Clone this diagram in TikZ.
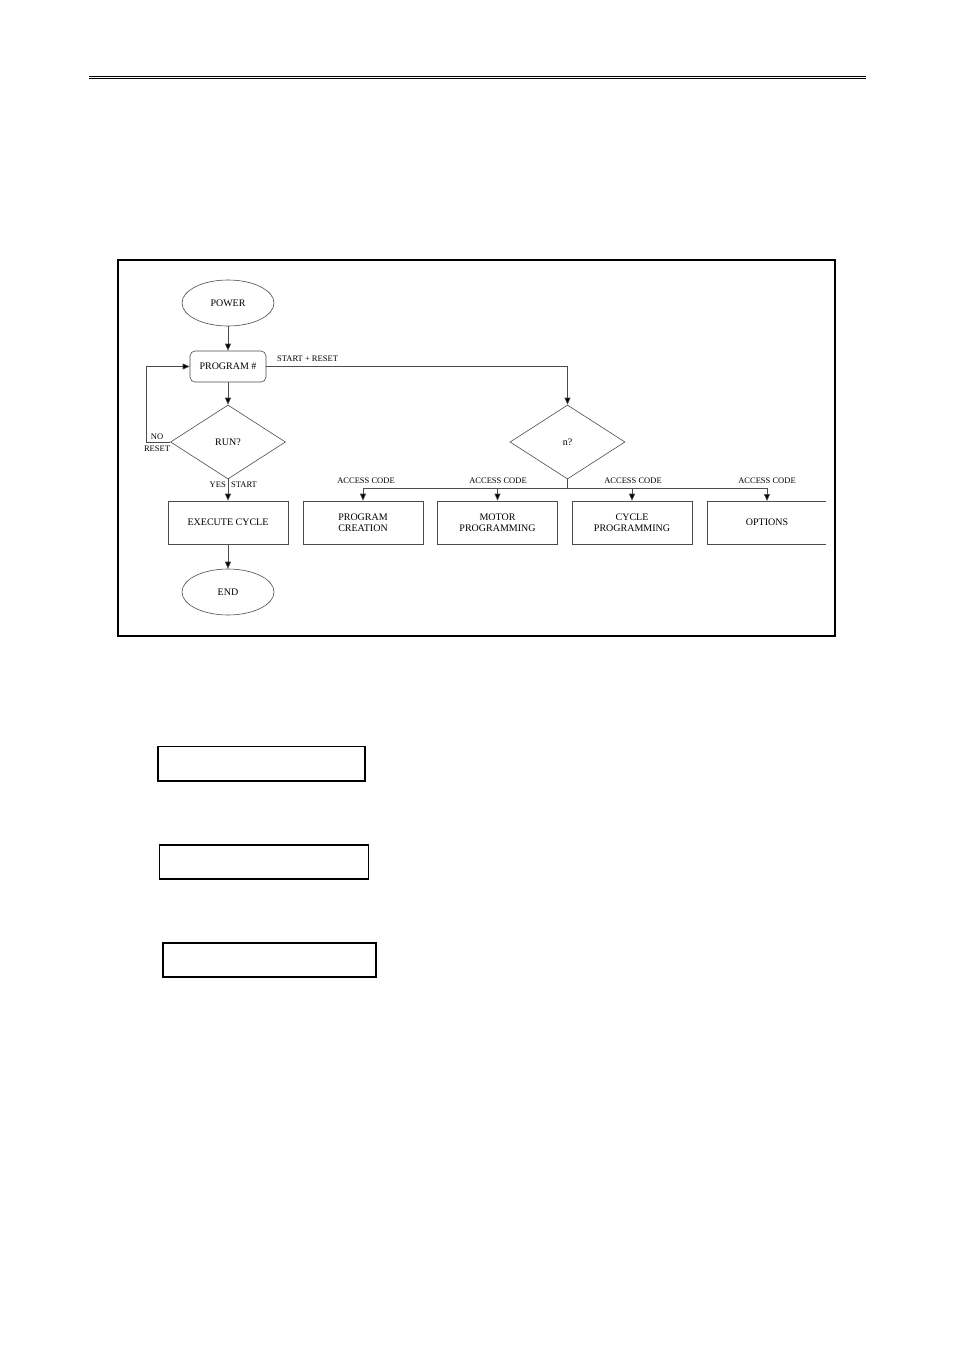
\documentclass[tikz,border=0pt]{standalone}
\usepackage{fontspec}
\setmainfont{Liberation Serif}
\usetikzlibrary{shapes.geometric,arrows.meta}
\begin{document}
\begin{tikzpicture}[x=1pt,y=-1pt,
  ln/.style={draw=black!70,line width=0.6pt},
  arr/.style={ln,-{Triangle[length=7pt,width=6pt,fill=black]}},
  txt/.style={font=\fontsize{10}{11}\selectfont,align=center,inner sep=0},
  lbl/.style={font=\fontsize{8.5}{9.5}\selectfont,inner sep=0},
  oval/.style={ln,ellipse,minimum width=92pt,minimum height=46pt,inner sep=0,txt},
  boxx/.style={ln,rectangle,minimum width=120pt,minimum height=43pt,inner sep=0,txt},
  dia/.style={ln,diamond,aspect=1.55,minimum width=115pt,minimum height=74pt,inner sep=0,txt},
  lcd/.style={draw=black,line width=1.4pt}]
\useasboundingbox (0,0) rectangle (954,1351);
\fill[white] (0,0) rectangle (954,1351);
% header rules
\draw[line width=0.8pt] (89,76) -- (866,76);
\draw[line width=1.6pt] (89,78.7) -- (866,78.7);
% frame
\draw[line width=1.5pt] (118,260) rectangle (835,636);
% nodes
\node[oval] (power) at (228,303) {POWER};
\node[ln,rectangle,rounded corners=5pt,minimum width=76pt,minimum height=31pt,inner sep=0,txt] (prog) at (228,366.5) {PROGRAM \#};
\node[dia] (run) at (228,442) {RUN?};
\node[boxx] (exec) at (228,522.5) {EXECUTE CYCLE};
\node[oval] (end) at (228,592) {END};
\node[dia] (n) at (567.5,442) {n?};
\node[boxx] (b1) at (363,522.5) {PROGRAM\\CREATION};
\node[boxx] (b2) at (497.5,522.5) {MOTOR\\PROGRAMMING};
\node[boxx] (b3) at (632,522.5) {CYCLE\\PROGRAMMING};
\node[txt] (b4) at (767,522.5) {OPTIONS};
\draw[ln] (826,501) -- (707,501) -- (707,544) -- (826,544);
\coordinate (b4top) at (767,501);
% connectors
\draw[arr] (power) -- (prog);
\draw[arr] (prog) -- (run);
\draw[arr] (run) -- (exec);
\draw[arr] (exec) -- (end);
\draw[arr] (run.west) -- (146,442) -- (146,366.5) -- (prog.west);
\draw[arr] (prog.east) -- (567.5,366.5) -- (n.north);
\coordinate (j) at (567.5,488);
\draw[ln] (n.south) -- (j);
\draw[arr] (j) -| (b1.north);
\draw[arr] (j) -| (b2.north);
\draw[arr] (j) -| (b3.north);
\draw[arr] (j) -| (b4top);
% labels
\node[lbl] (lno) at (157,437) {NO};
\node[lbl] (lreset) at (157,448.5) {RESET};
\node[lbl,anchor=east] (lyes) at (226,484.5) {YES};
\node[lbl,anchor=west] (lstart) at (231,484.5) {START};
\node[lbl,anchor=west] (lsr) at (277,359) {START + RESET};
\node[lbl] (a1) at (366,480.5) {ACCESS CODE};
\node[lbl] (a2) at (498,480.5) {ACCESS CODE};
\node[lbl] (a3) at (633,480.5) {ACCESS CODE};
\node[lbl] (a4) at (767,480.5) {ACCESS CODE};
% display boxes
\draw[lcd] (158,746.5) rectangle (365,781);
\draw[lcd] (159.5,845) rectangle (368.5,879);
\draw[lcd] (163,943) rectangle (376,977);
\end{tikzpicture}
\end{document}
